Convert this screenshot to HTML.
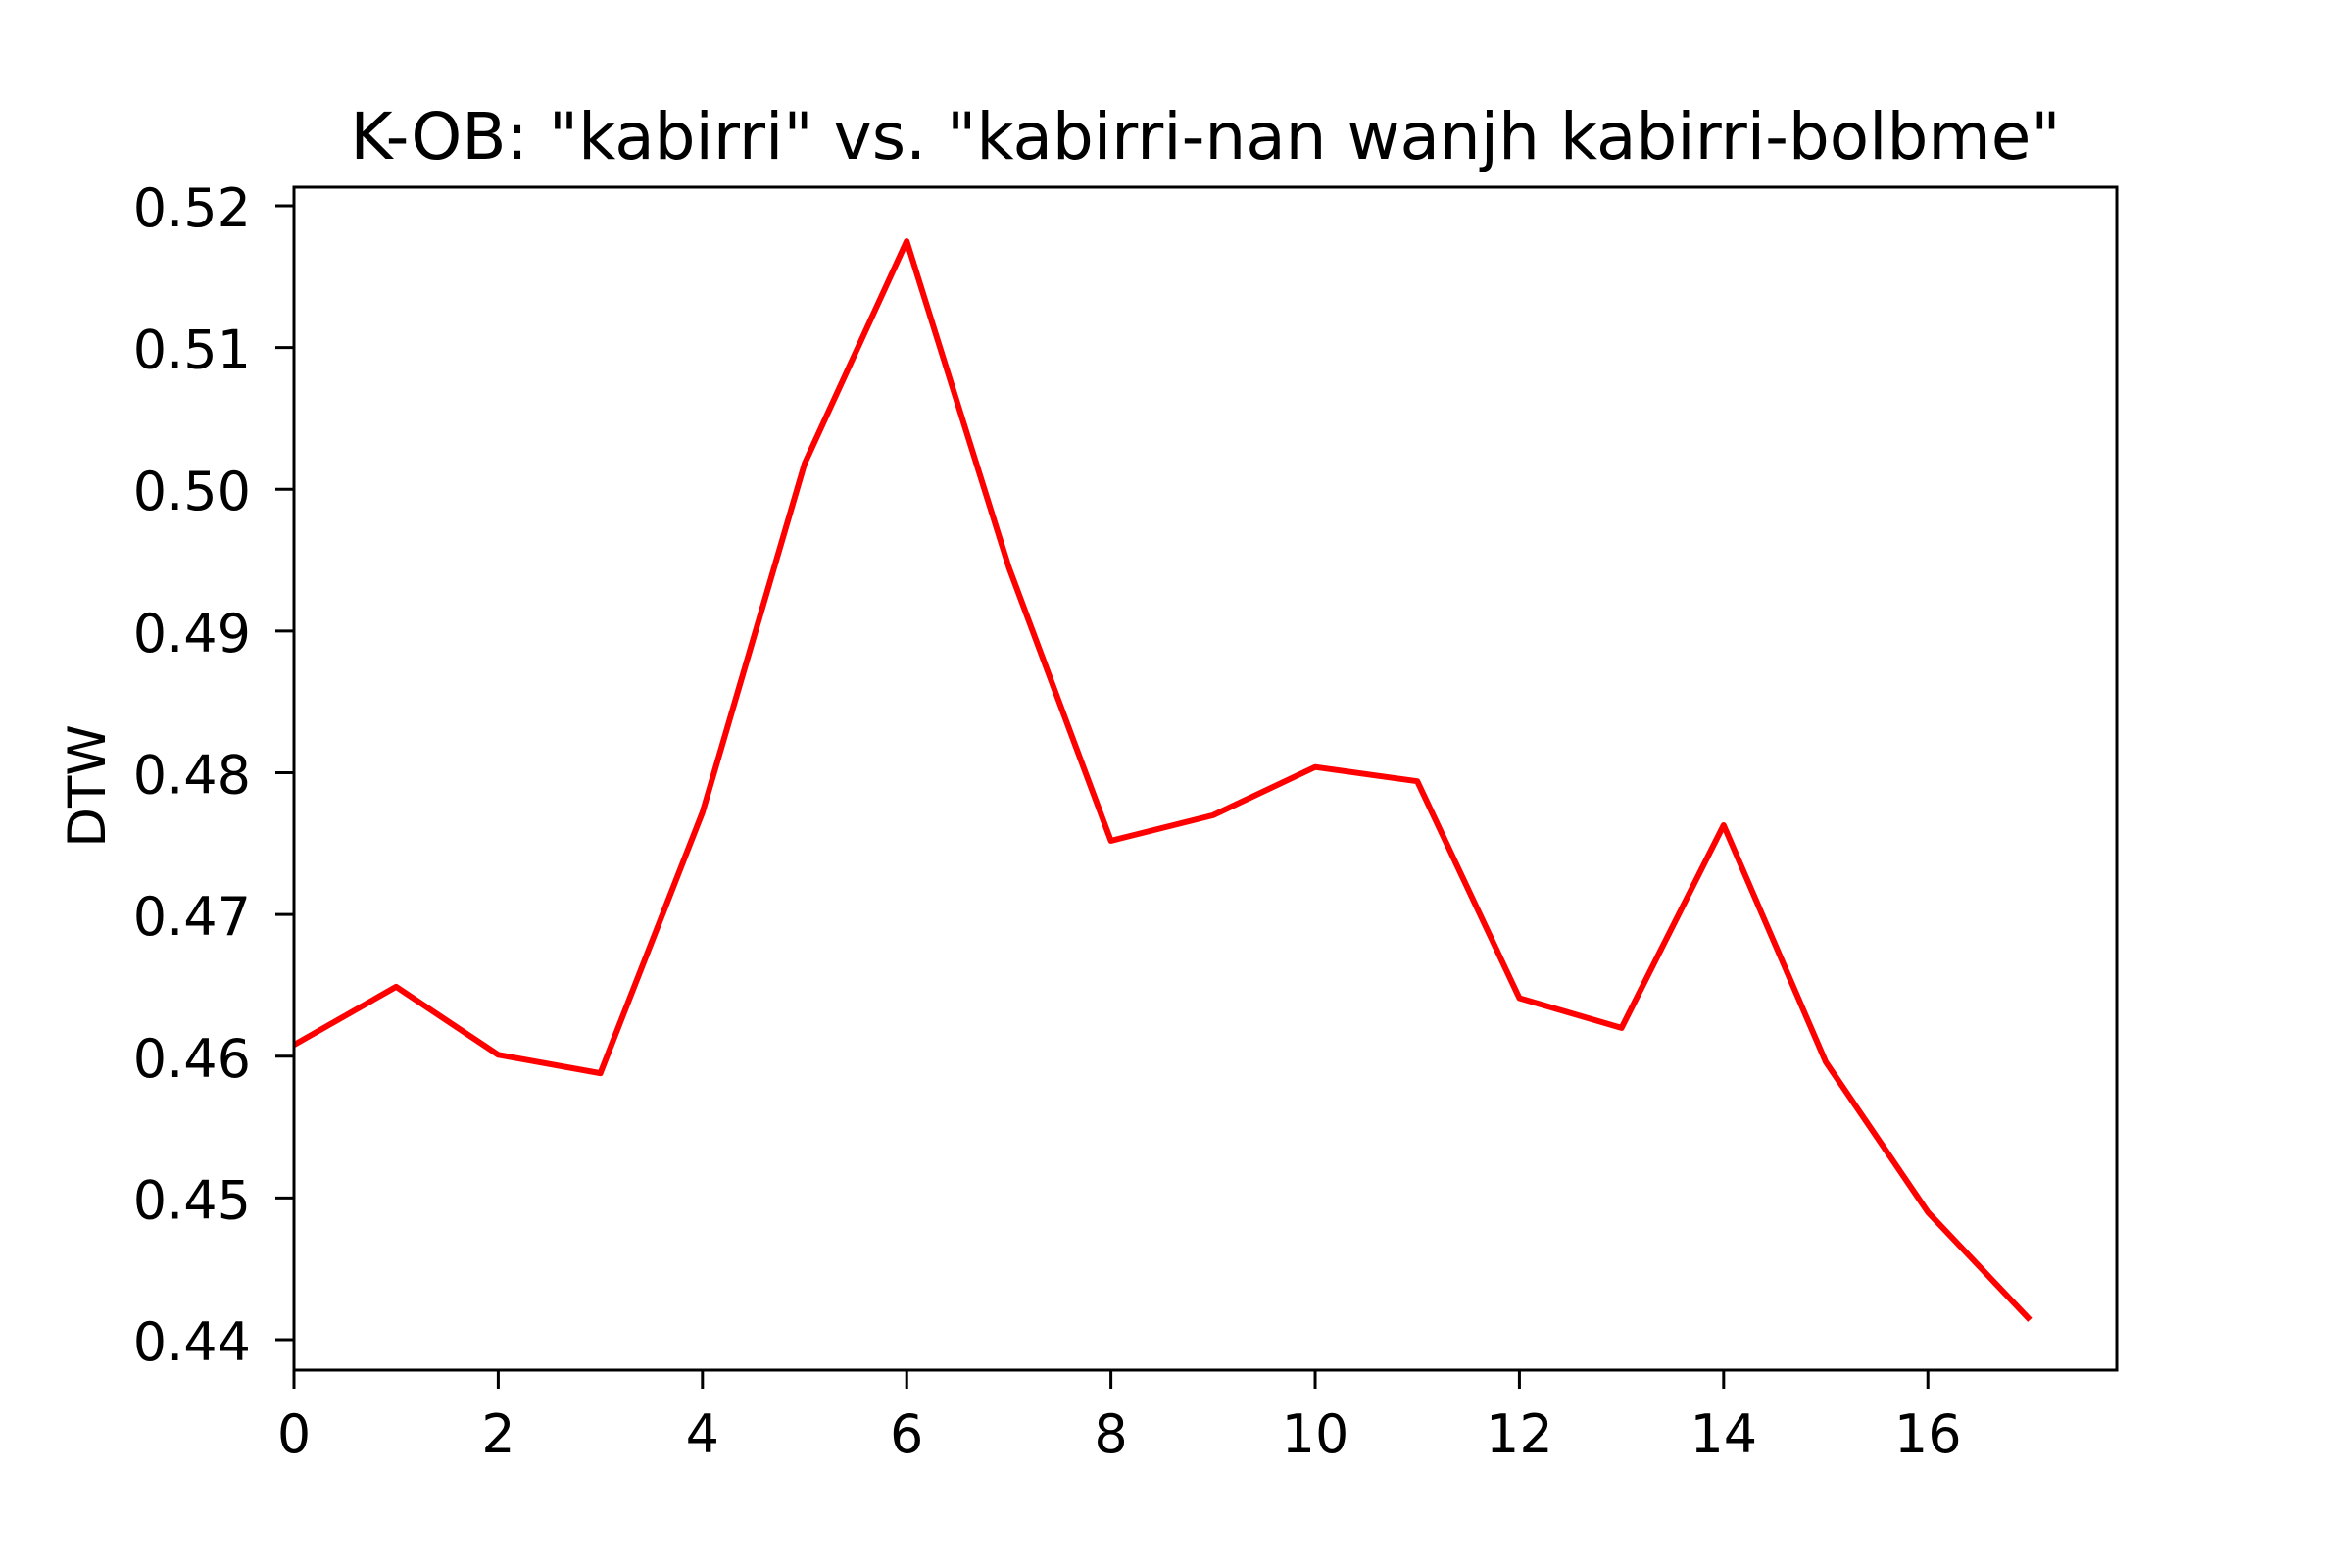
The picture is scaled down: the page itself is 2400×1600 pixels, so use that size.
<!DOCTYPE html>
<html><head><meta charset="utf-8"><style>
html,body{margin:0;padding:0;background:#fff;}
svg{display:block;font-family:"DejaVu Sans","Liberation Sans",sans-serif;}
</style></head><body>
<svg id="chart" width="2400" height="1600" viewBox="0 0 2400 1600" xmlns="http://www.w3.org/2000/svg">
<rect width="2400" height="1600" fill="#fff"/>
<text x="1230" y="162" font-size="66" text-anchor="middle">K-OB: "kabirri" vs. "kabirri-nan wanjh kabirri-bolbme"</text>
<text transform="translate(107,802) rotate(-90)" font-size="53" text-anchor="middle">DTW</text>
<g id="marks"></g>
<rect x="300" y="191" width="1860" height="1207" fill="none" stroke="#000" stroke-width="3"/>
</svg>
<script>
const xValues = [0,1,2,3,4,5,6,7,8,9,10,11,12,13,14,15,16,17];
const dtwValues = [0.4608,0.4649,0.4601,0.4588,0.4772,0.5018,0.5175,0.4945,0.4752,0.4770,0.4804,0.4794,0.4641,0.4620,0.4763,0.4596,0.4490,0.4414];
const xTicks = [0,2,4,6,8,10,12,14,16];
const yTicks = [0.44,0.45,0.46,0.47,0.48,0.49,0.50,0.51,0.52];
const yTickLabels = ["0.44","0.45","0.46","0.47","0.48","0.49","0.50","0.51","0.52"];

const L=300,R=2160,T=191,B=1398;
const xMin=-0.0, xMax=17.85, yMin=0.43786, yMax=0.52131;
function sx(v){return L+(v-xMin)/(xMax-xMin)*(R-L);}
function sy(v){return B-(v-yMin)/(yMax-yMin)*(B-T);}
const NS="http://www.w3.org/2000/svg";
const g=document.getElementById('marks');
xTicks.forEach(t=>{
  const l=document.createElementNS(NS,'line');
  l.setAttribute('x1',sx(t));l.setAttribute('x2',sx(t));l.setAttribute('y1',B);l.setAttribute('y2',B+19);
  l.setAttribute('stroke','#000');l.setAttribute('stroke-width','3');
  
  
  g.appendChild(l);
  const tx=document.createElementNS(NS,'text');
  tx.setAttribute('x',sx(t));tx.setAttribute('y',1482);tx.setAttribute('font-size','54');tx.setAttribute('text-anchor','middle');
  tx.textContent=String(t);
  
  
  g.appendChild(tx);
});
yTicks.forEach((t,i)=>{
  const l=document.createElementNS(NS,'line');
  l.setAttribute('x1',L-19);l.setAttribute('x2',L);l.setAttribute('y1',sy(t));l.setAttribute('y2',sy(t));
  l.setAttribute('stroke','#000');l.setAttribute('stroke-width','3');
  
  
  g.appendChild(l);
  const tx=document.createElementNS(NS,'text');
  tx.setAttribute('x',L-44);tx.setAttribute('y',sy(t)+21);tx.setAttribute('font-size','54');tx.setAttribute('text-anchor','end');
  tx.textContent=yTickLabels[i];
  
  
  g.appendChild(tx);
});
const p=document.createElementNS(NS,'polyline');
p.setAttribute('points',xValues.map((x,i)=>sx(x)+','+sy(dtwValues[i])).join(' '));
p.setAttribute('fill','none');p.setAttribute('stroke','#ff0000');p.setAttribute('stroke-width','6');
p.setAttribute('stroke-linejoin','round');


g.appendChild(p);
</script>
</body></html>
